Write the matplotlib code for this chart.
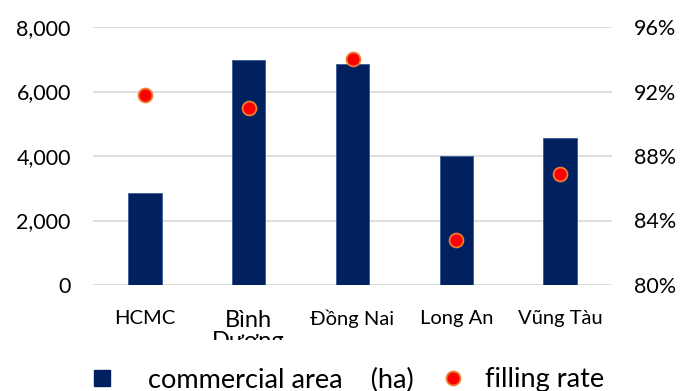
import matplotlib
matplotlib.use("Agg")
import matplotlib.pyplot as plt
from matplotlib.lines import Line2D
from matplotlib.ticker import FuncFormatter
from matplotlib.transforms import Bbox, TransformedBbox

plt.rcParams['font.family'] = ['Lato', 'DejaVu Sans']

provinces = ["HCMC", "Bình\nDương", "Đồng Nai", "Long An", "Vũng Tàu"]
commercial_area = [2850, 6980, 6850, 4000, 4550]      # ha
filling_rate = [91.8, 91.0, 94.0, 82.8, 86.9]          # %
area_ticks = [0, 2000, 4000, 6000, 8000]
rate_ticks = [80, 84, 88, 92, 96]
legend_labels = ["commercial area    (ha)", "filling rate"]

BAR_COLOR = "#002060"
DOT_FACE = "#ff0000"
DOT_EDGE = "#ed7d31"
GRID = "#d9d9d9"

W, H = 698, 391
fig = plt.figure(figsize=(W / 100, H / 100), dpi=100)
ax = fig.add_axes([93 / W, 1 - 285 / H, 519 / W, 258 / H])
ax2 = ax.twinx()

x = list(range(len(provinces)))
ax.bar(x, commercial_area, width=0.32, color=BAR_COLOR, edgecolor="#3a5a95",
       linewidth=0.6, zorder=2)
ax2.plot(x, filling_rate, linestyle="none", marker="o", markersize=10,
         markerfacecolor=DOT_FACE, markeredgecolor=DOT_EDGE, markeredgewidth=1.3,
         zorder=3)

ax.set_xlim(-0.5, len(provinces) - 0.5)
ax.set_ylim(area_ticks[0], area_ticks[-1])
ax2.set_ylim(rate_ticks[0], rate_ticks[-1])
ax.set_yticks(area_ticks)
ax2.set_yticks(rate_ticks)
ax.yaxis.set_major_formatter(FuncFormatter(lambda v, p: f"{int(v):,}"))
ax2.yaxis.set_major_formatter(FuncFormatter(lambda v, p: f"{int(v)}%"))

ax.grid(axis="y", color=GRID, linewidth=1.2, zorder=0)
ax.set_axisbelow(True)
for a in (ax, ax2):
    for s in a.spines.values():
        s.set_visible(False)
    a.tick_params(length=0, labelsize=15.5, colors="black")
ax.tick_params(axis="y", pad=16)
ax2.tick_params(axis="y", pad=16)

ax.set_xticks(x)
ax.set_xticklabels(provinces, fontsize=14.5, va="top", linespacing=1.0)
ax.tick_params(axis="x", pad=18)

# the wrapped two-line label is cut off where the legend area begins
clip = TransformedBbox(Bbox([[0, 51 / H], [1, 1]]), fig.transFigure)
for lbl in ax.get_xticklabels():
    if "\n" in lbl.get_text():
        lbl.set_fontsize(17)
        lbl.set_clip_on(True)
        lbl.set_clip_box(clip)

# legend entries, each placed on its own
FS = 19.5
bar_handle = Line2D([], [], linestyle="none", marker="s", markersize=11,
                    markerfacecolor=BAR_COLOR, markeredgecolor=BAR_COLOR)
dot_handle = Line2D([], [], linestyle="none", marker="o", markersize=10,
                    markerfacecolor=DOT_FACE, markeredgecolor=DOT_EDGE,
                    markeredgewidth=1.3)
fs_px = FS * 100 / 72
for handle, label, cx, tx in [(bar_handle, legend_labels[0], 102, 148),
                              (dot_handle, legend_labels[1], 453, 485)]:
    left = cx - fs_px / 2
    fig.legend([handle], [label], loc="center left",
               bbox_to_anchor=(left / W, 1 - 380 / H), frameon=False,
               fontsize=FS, handlelength=1.0,
               handletextpad=(tx - left - fs_px) / fs_px,
               borderaxespad=0, borderpad=0)

fig.savefig("out.png", dpi=100)
